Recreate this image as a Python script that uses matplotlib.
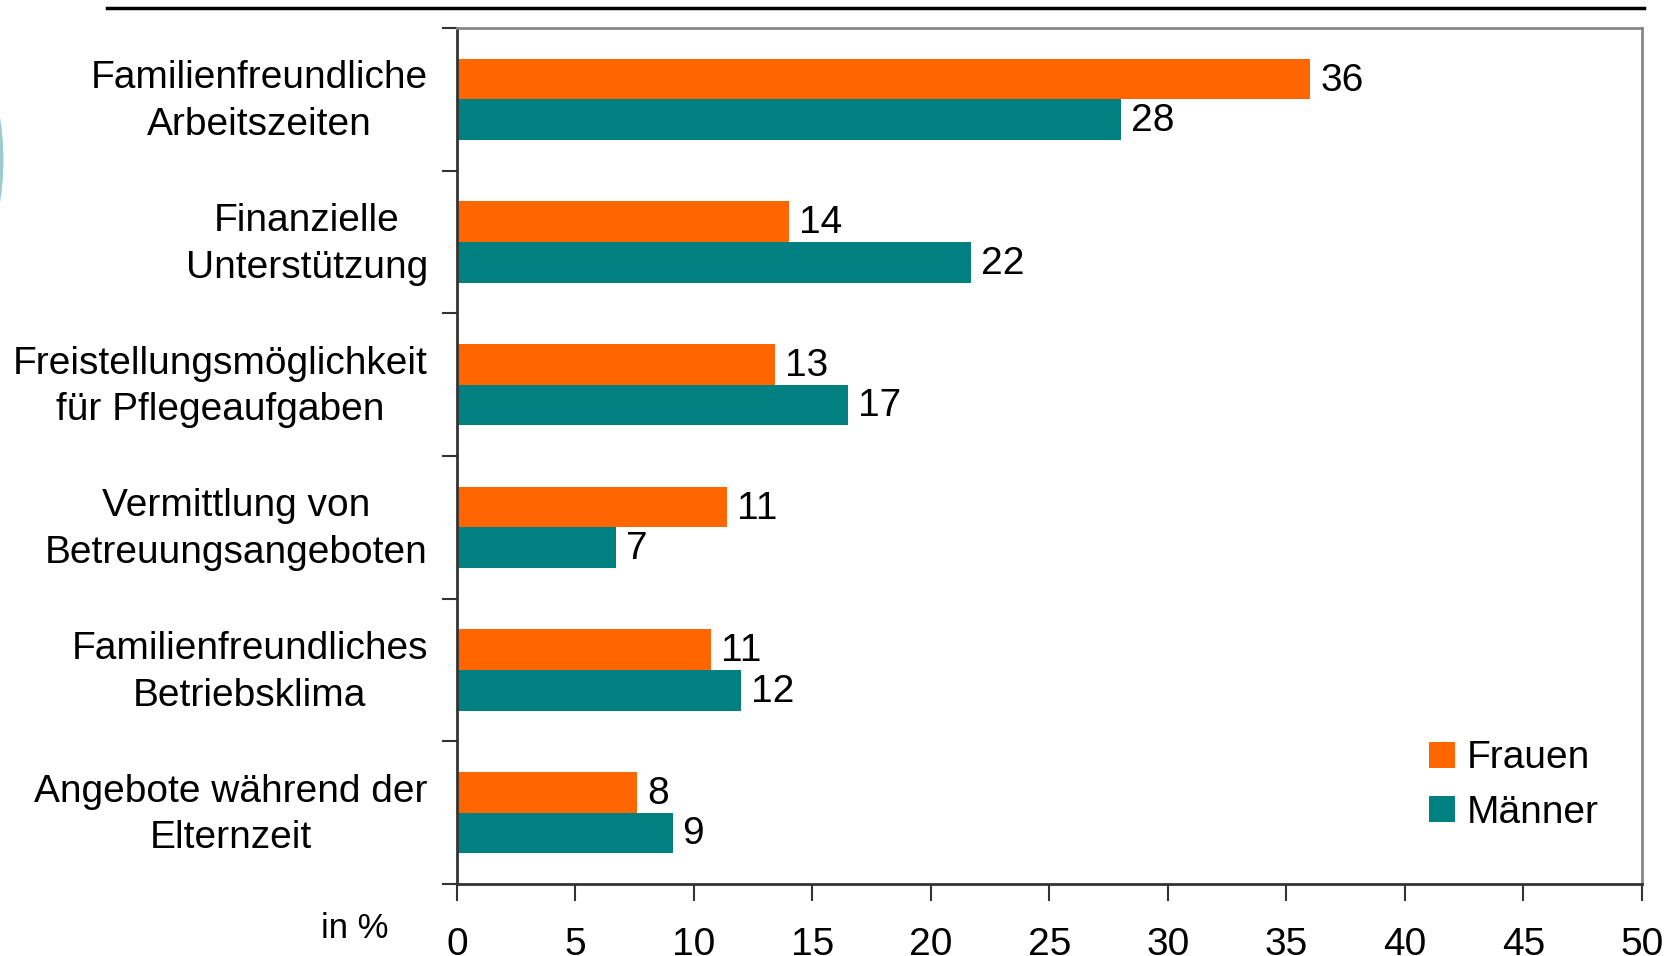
import matplotlib
matplotlib.use("Agg")
import matplotlib.pyplot as plt
from matplotlib.patches import Arc
from matplotlib.lines import Line2D
import matplotlib.transforms as mtransforms
import numpy as np

plt.rcParams['font.family'] = ['Liberation Sans', 'DejaVu Sans']

categories = [
    "Familienfreundliche\nArbeitszeiten",
    "Finanzielle\nUnterstützung",
    "Freistellungsmöglichkeit\nfür Pflegeaufgaben",
    "Vermittlung von\nBetreuungsangeboten",
    "Familienfreundliches\nBetriebsklima",
    "Angebote während der\nElternzeit",
]
frauen = [36.0, 14.0, 13.4, 11.4, 10.7, 7.6]
maenner = [28.0, 21.7, 16.5, 6.7, 12.0, 9.1]
frauen_labels = ["36", "14", "13", "11", "11", "8"]
maenner_labels = ["28", "22", "17", "7", "12", "9"]
xticks = [0, 5, 10, 15, 20, 25, 30, 35, 40, 45, 50]

W, H = 1674, 956
fig = plt.figure(figsize=(W / 100, H / 100), dpi=100)
ax = fig.add_axes([457 / W, 1 - 884 / H, (1642 - 457) / W, (884 - 28) / H])

FS = 28
orange = "#FF6600"
teal = "#008080"
h = 0.284
y = np.arange(len(categories))

ax.barh(y - h / 2, frauen, height=h, color=orange, label="Frauen", zorder=2)
ax.barh(y + h / 2, maenner, height=h, color=teal, label="Männer", zorder=2)

for yi, v, t in zip(y, frauen, frauen_labels):
    ax.text(v + 0.42, yi - h / 2 + 0.01, t, va="center", ha="left", fontsize=FS)
for yi, v, t in zip(y, maenner, maenner_labels):
    ax.text(v + 0.42, yi + h / 2 + 0.01, t, va="center", ha="left", fontsize=FS)

ax.set_xlim(0, 50)
ax.set_ylim(len(categories) - 0.5, -0.5)
ax.set_xticks(xticks)
ax.set_xticklabels([str(t) for t in xticks], fontsize=FS)
ax.tick_params(axis="x", direction="out", length=12, width=1.5, pad=19, colors="#333333", labelcolor="black")

# category boundaries as major ticks, labels on minor ticks
ax.set_yticks(np.arange(-0.5, len(categories), 1.0))
ax.set_yticklabels([])
ax.set_yticks(y, minor=True)
ax.set_yticklabels(categories, minor=True, fontsize=FS, multialignment="center",
                   linespacing=1.38)
ax.tick_params(axis="y", which="major", direction="out", length=11, width=1.5, colors="#333333")
ax.tick_params(axis="y", which="minor", length=0, pad=21)
shift = mtransforms.ScaledTranslation(0, 5 / 72, fig.dpi_scale_trans)
for lbl in ax.get_yticklabels(minor=True):
    lbl.set_transform(lbl.get_transform() + shift)

for s in ["left", "bottom"]:
    ax.spines[s].set_color("#333333")
    ax.spines[s].set_linewidth(2)
for s in ["top", "right"]:
    ax.spines[s].set_color("#888888")
    ax.spines[s].set_linewidth(2)

fig.text(321 / W, 1 - 929 / H, "in %", fontsize=25, ha="left", va="center")

leg = ax.legend(loc="upper left", bbox_to_anchor=(1410 / W, 1 - 721 / H),
                bbox_transform=fig.transFigure, frameon=False, fontsize=FS,
                handlelength=0.65, handleheight=0.65, handletextpad=0.3,
                labelspacing=0.47, borderpad=0)

# top rule line
fig.add_artist(Line2D([107 / W, 1644 / W], [1 - 8 / H, 1 - 8 / H],
                      transform=fig.transFigure, color="black", linewidth=2.5))

# decorative arc at left edge
r = 270
arc = Arc(((1.5 - r) / W, 1 - 160 / H),
          2 * r / W, 2 * r / H, transform=fig.transFigure,
          color="#99CCCC", linewidth=2.8)
fig.add_artist(arc)

fig.savefig("out.png", dpi=100)
